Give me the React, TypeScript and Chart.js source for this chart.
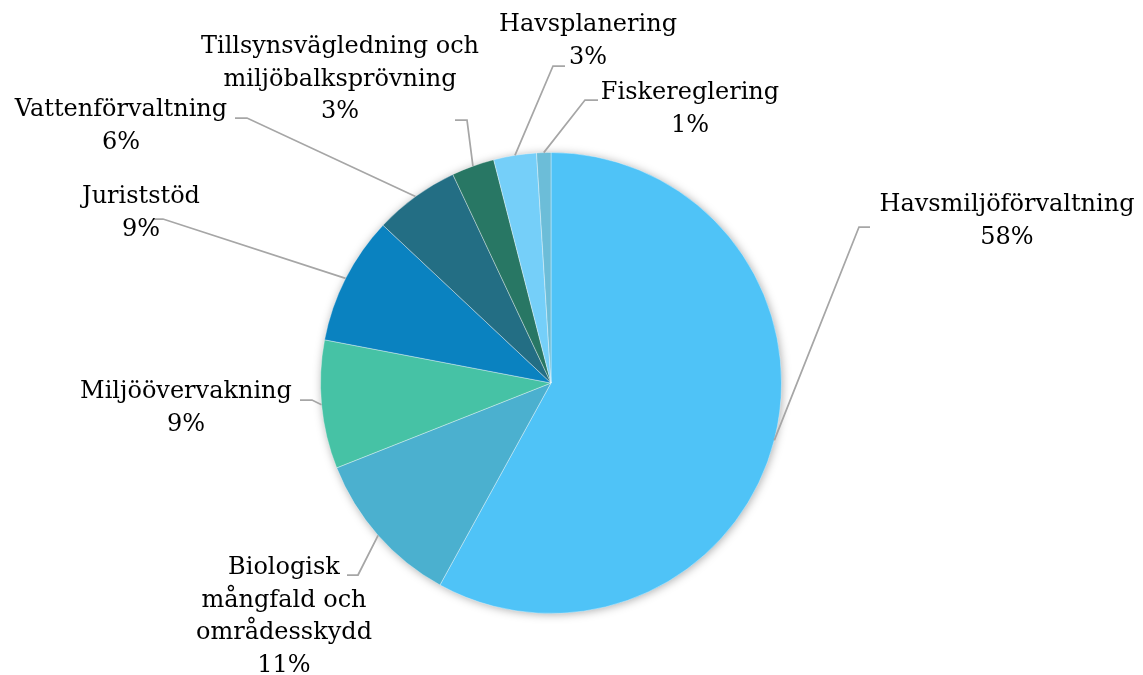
import React, { useEffect, useRef } from "react";
import { Chart, registerables } from "chart.js";

Chart.register(...registerables);

// ---- Data ----
const categories = [
  "Havsmiljöförvaltning",
  "Biologisk mångfald och områdesskydd",
  "Miljöövervakning",
  "Juriststöd",
  "Vattenförvaltning",
  "Tillsynsvägledning och miljöbalksprövning",
  "Havsplanering",
  "Fiskereglering",
];
const values = [58, 11, 9, 9, 6, 3, 3, 1];
const labelLines = [
  ["Havsmiljöförvaltning"],
  ["Biologisk", "mångfald och", "områdesskydd"],
  ["Miljöövervakning"],
  ["Juriststöd"],
  ["Vattenförvaltning"],
  ["Tillsynsvägledning och", "miljöbalksprövning"],
  ["Havsplanering"],
  ["Fiskereglering"],
];

// ---- Styles / layout ----
const colors = [
  "#4FC3F7",
  "#4BB0CF",
  "#46C2A5",
  "#0A82C0",
  "#236E84",
  "#287764",
  "#75CFF9",
  "#6CBDD8",
];
// label layout relative to pie centre: text centre x, first line centre y, elbow x/y, stub end x
const labelLayout = [
  { tx: 456, ty: -178, ex: 308, ey: -156, sx: 319 },
  { tx: -267, ty: 185, ex: -193, ey: 192, sx: -204 },
  { tx: -365, ty: 9, ex: -239, ey: 17, sx: -251 },
  { tx: -410, ty: -186, ex: -388, ey: -164, sx: -398 },
  { tx: -430, ty: -273, ex: -304, ey: -265, sx: -316 },
  { tx: -211, ty: -336, ex: -84, ey: -263, sx: -96 },
  { tx: 37, ty: -358, ex: 2, ey: -317, sx: 14 },
  { tx: 139, ty: -290, ex: 34, ey: -283, sx: 47 },
];
const FONT = '24px "DejaVu Serif", serif';
const LINE_H = 32.5;

const shadowPlugin = {
  id: "pieShadow",
  beforeDatasetsDraw(chart: any) {
    const meta = chart.getDatasetMeta(0);
    const arc = meta.data[0];
    if (!arc) return;
    const { x, y, outerRadius } = arc.getProps(["x", "y", "outerRadius"], true);
    const ctx = chart.ctx;
    ctx.save();
    ctx.shadowColor = "rgba(0,0,0,0.35)";
    ctx.shadowBlur = 10;
    ctx.shadowOffsetX = 1;
    ctx.shadowOffsetY = 1;
    ctx.fillStyle = "#ffffff";
    ctx.beginPath();
    ctx.arc(x, y, outerRadius - 0.5, 0, Math.PI * 2);
    ctx.fill();
    ctx.restore();
  },
};

const labelPlugin = {
  id: "leaderLabels",
  afterDatasetsDraw(chart: any) {
    const meta = chart.getDatasetMeta(0);
    const ctx = chart.ctx;
    const total = values.reduce((a, b) => a + b, 0);
    ctx.save();
    meta.data.forEach((arc: any, i: number) => {
      const { x, y, startAngle, endAngle, outerRadius } = arc.getProps(
        ["x", "y", "startAngle", "endAngle", "outerRadius"],
        true
      );
      const mid = (startAngle + endAngle) / 2;
      const px = x + Math.cos(mid) * outerRadius;
      const py = y + Math.sin(mid) * outerRadius;
      const L = labelLayout[i];
      ctx.strokeStyle = "#A6A6A6";
      ctx.lineWidth = 1.75;
      ctx.beginPath();
      ctx.moveTo(px, py);
      ctx.lineTo(x + L.ex, y + L.ey);
      ctx.lineTo(x + L.sx, y + L.ey);
      ctx.stroke();

      const lines = [...labelLines[i], Math.round((values[i] / total) * 100) + "%"];
      ctx.fillStyle = "#000000";
      ctx.font = FONT;
      ctx.textAlign = "center";
      ctx.textBaseline = "middle";
      lines.forEach((t, k) => {
        ctx.fillText(t, x + L.tx, y + L.ty + k * LINE_H);
      });
    });
    ctx.restore();
  },
};

export default function App() {
  const ref = useRef<HTMLCanvasElement>(null);
  useEffect(() => {
    if (!ref.current) return;
    const chart = new Chart(ref.current, {
      type: "pie",
      data: {
        labels: categories,
        datasets: [
          {
            data: values,
            backgroundColor: colors,
            borderColor: "rgba(255,255,255,0.35)",
            borderWidth: 1,
          },
        ],
      },
      options: {
        responsive: false,
        maintainAspectRatio: false,
        animation: false,
        layout: { padding: { left: 320, right: 361, top: 152, bottom: 61 } },
        plugins: {
          legend: { display: false },
          tooltip: { enabled: false },
        },
      },
      plugins: [shadowPlugin, labelPlugin],
    });
    return () => chart.destroy();
  }, []);
  return (
    <div style={{ position: "absolute", left: 0, top: 0, width: 1143, height: 675, background: "#fff" }}>
      <canvas ref={ref} width={1143} height={675} />
    </div>
  );
}
